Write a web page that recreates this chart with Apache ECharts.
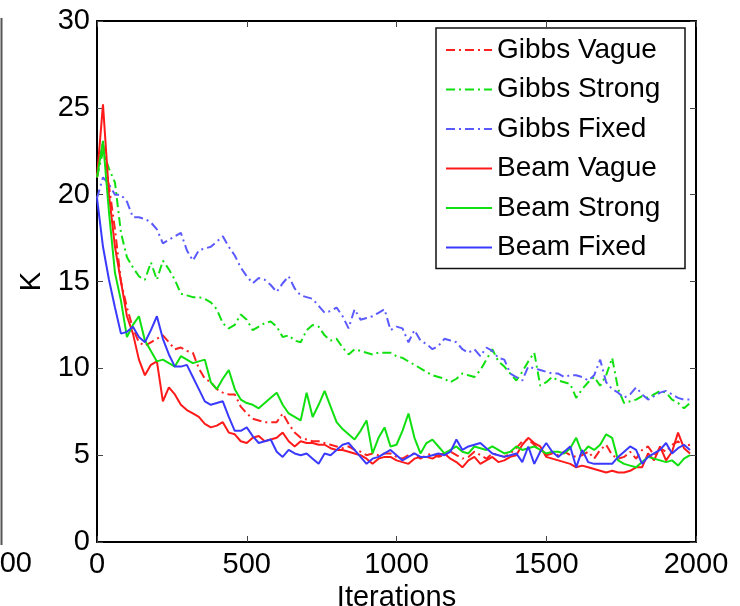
<!DOCTYPE html>
<html>
<head>
<meta charset="utf-8">
<script src="https://cdn.jsdelivr.net/npm/echarts@6/dist/echarts.min.js"></script>
<style>
html,body{margin:0;padding:0;background:#fff;}
#chart{width:740px;height:606px;}
</style>
</head>
<body>
<div id="chart"></div>
<script>
// ---- data ----
const iterations = [0,20,40,60,80,100,120,140,160,180,200,220,240,260,280,300,320,340,360,380,
  400,420,440,460,480,500,520,540,560,580,600,620,640,660,680,700,720,740,760,780,
  800,820,840,860,880,900,920,940,960,980,1000,1020,1040,1060,1080,1100,1120,1140,1160,1180,
  1200,1220,1240,1260,1280,1300,1320,1340,1360,1380,1400,1420,1440,1460,1480,1500,1520,1540,1560,1580,
  1600,1620,1640,1660,1680,1700,1720,1740,1760,1780,1800,1820,1840,1860,1880,1900,1920,1940,1960,1980];

const seriesNames = ['Gibbs Vague','Gibbs Strong','Gibbs Fixed','Beam Vague','Beam Strong','Beam Fixed'];

const gibbsVague = [21,23,20.5,18,15,13.5,12.3,11.5,11.3,11.5, 11.7,11.9,11.5,11.1,11.2,11.0,10.9,10.0,9.4,9.2,
  8.8,8.6,8.5,8.5,7.8,7.4,7.1,7.0,6.9,6.9, 6.9,7.4,6.8,6.3,6.0,5.9,5.8,5.8,5.7,5.6,
  5.5,5.4,5.5,5.3,5.2,5.0,5.1,5.0,5.1,5.1, 4.9,4.8,5.0,5.1,4.8,5.0,5.1,4.9,5.0,5.2,
  5.0,4.8,4.9,5.2,5.0,4.8,5.1,5.0,4.9,5.1, 5.4,5.8,5.9,5.6,5.2,5.0,5.1,5.0,5.2,5.0,
  4.9,5.0,5.2,4.8,5.3,5.6,5.0,4.8,4.9,5.2, 4.8,5.3,5.5,5.0,5.4,5.2,5.6,5.8,5.5,5.6];

const gibbsStrong = [21,22.5,21.5,20.7,17.8,16.4,15.8,15.3,15.1,16.1, 15.1,16.2,15.7,15.1,14.3,14.2,14.1,14.1,14.0,13.8,
  13.4,12.6,12.3,12.5,13.1,12.8,12.2,12.4,12.6,12.7, 12.4,11.8,11.9,11.6,11.5,12.2,12.5,12.4,11.9,11.6,
  11.7,11.2,10.8,11.1,11.0,10.9,10.8,10.9,10.9,10.9, 10.7,10.6,10.4,10.2,10.0,9.8,9.6,9.5,9.4,9.2,
  9.4,9.7,9.6,9.5,9.9,10.5,11.1,10.4,10.1,9.7, 9.3,9.8,10.4,10.9,9.0,9.2,9.5,9.3,9.2,9.1,
  8.3,8.8,9.2,9.5,9.0,9.6,10.6,8.8,8.0,8.1, 8.2,8.4,8.3,8.5,8.7,8.6,8.2,8.0,7.7,8.0];

const gibbsFixed = [19.8,21.0,20.6,20.0,20.0,19.6,18.7,18.7,18.6,18.4, 18.0,17.2,17.4,17.6,17.8,16.8,16.2,16.8,16.9,17.0,
  17.3,17.6,17.0,16.5,15.8,15.3,14.9,15.2,15.1,14.8, 14.4,14.9,15.3,14.6,14.2,14.1,14.0,13.6,13.2,13.3,
  13.5,13.0,12.3,13.4,12.8,12.9,13.0,13.2,13.4,12.2, 12.4,12.3,11.5,12.2,11.6,11.4,11.1,11.3,11.7,11.6,
  11.5,11.1,10.9,11.1,10.7,11.2,11.0,10.6,10.5,9.7, 9.5,9.3,10.1,10.0,9.9,9.8,9.7,9.7,9.5,9.6,
  9.6,9.5,9.3,9.6,10.5,9.2,8.8,8.6,8.3,8.5, 8.9,8.5,8.2,8.4,8.6,8.7,8.5,8.3,8.2,8.2];

const beamVague = [21,25.2,20,17,15,13,12,10.5,9.6,10.2, 10.4,8.1,8.9,8.5,7.9,7.6,7.4,7.2,6.8,6.6,
  6.7,6.9,6.3,6.2,5.8,5.7,6.0,6.1,5.8,5.9, 6.0,6.3,5.8,5.5,5.8,5.7,5.7,5.6,5.6,5.4,
  5.3,5.3,5.2,5.1,5.0,4.8,4.5,4.8,4.9,4.9, 4.7,4.6,4.5,4.8,4.9,4.9,4.8,5.0,5.1,4.8,
  4.6,4.3,4.7,4.9,4.5,4.7,4.9,4.6,4.7,4.9, 5.0,5.6,6.0,5.7,5.5,4.9,4.8,4.7,4.6,4.5,
  4.3,4.4,4.3,4.2,4.1,4.0,4.1,4.0,4.0,4.1, 4.3,4.3,5.1,4.7,5.5,4.7,5.2,6.3,5.4,5.1];

const beamStrong = [21,23.1,19,15.5,13.9,11.8,12.5,13.0,11.6,11.0, 10.4,10.5,10.3,10.1,10.7,10.5,10.3,10.4,10.5,9.2,
  8.8,9.4,9.9,8.8,8.2,8.0,7.9,7.7,8.0,8.3, 8.6,7.9,7.4,7.2,7.0,8.6,7.2,7.9,8.7,7.8,
  6.9,6.5,6.2,5.9,6.4,7.0,5.1,6.0,6.6,5.5, 5.6,6.4,7.4,6.0,5.1,5.7,5.9,5.5,5.1,5.3,
  5.5,5.2,5.1,5.5,5.4,5.3,5.5,5.3,5.1,5.2, 5.5,5.3,5.4,5.5,5.3,5.1,5.2,5.2,5.1,5.4,
  6.0,5.1,5.5,5.3,5.6,6.2,6.0,4.7,4.5,4.4, 4.3,4.6,4.9,4.8,4.7,4.6,4.7,4.4,4.8,5.0];

const beamFixed = [19.8,17,15.1,13.5,12.0,12.1,12.4,11.8,11.5,12.2, 13.0,11.7,10.8,10.1,10.1,10.2,9.5,8.8,8.1,7.9,
  8.0,8.1,7.2,6.4,6.4,6.6,6.1,5.7,5.8,5.9, 5.2,4.9,5.3,5.1,5.0,5.1,4.8,4.5,5.1,5.0,
  5.3,5.6,5.7,5.3,4.9,4.5,4.8,4.9,5.1,5.3, 5.0,4.7,4.9,5.1,4.9,4.9,5.0,5.1,5.0,5.2,
  5.9,5.3,5.5,5.6,5.7,5.4,5.1,5.0,4.9,5.0, 5.1,4.6,5.5,4.5,5.2,5.7,5.2,4.9,5.2,5.5,
  4.3,5.3,4.6,4.5,4.5,4.5,4.5,4.9,5.2,5.5, 5.3,4.5,4.9,5.1,5.3,5.7,5.1,5.4,5.6,5.3];

const xTicks = [0, 500, 1000, 1500, 2000];
const yTicks = [0, 5, 10, 15, 20, 25, 30];

// ---- chart ----
const FONT = '"Liberation Sans", Arial, sans-serif';
const dashDot = [9, 4, 2, 4];
const styles = [
  {color:'#ff2020', type:dashDot},
  {color:'#10e010', type:dashDot},
  {color:'#5a5aff', type:dashDot},
  {color:'#ff1a1a', type:'solid'},
  {color:'#10e010', type:'solid'},
  {color:'#3a3aff', type:'solid'}
];
const values = [gibbsVague, gibbsStrong, gibbsFixed, beamVague, beamStrong, beamFixed];

const series = seriesNames.map((name, i) => ({
  name: name,
  type: 'line',
  symbol: 'none',
  animation: false,
  data: values[i].map((v, k) => [iterations[k], v]),
  lineStyle: {color: styles[i].color, width: 2, type: styles[i].type},
  itemStyle: {color: styles[i].color}
}));

const axisLineStyle = {color:'#000', width:2};
const tickStyle = {show:true, inside:true, length:6, lineStyle:{color:'#444', width:1}};
const plain = v => String(v);

const chart = echarts.init(document.getElementById('chart'), null, {renderer:'canvas'});
chart.setOption({
  animation: false,
  backgroundColor: '#fff',
  grid: {left:97, right:44, top:21, bottom:64, containLabel:false, outerBoundsMode:'none'},
  xAxis: [
    {type:'value', min:xTicks[0], max:xTicks[xTicks.length-1], interval:500, position:'bottom',
     axisLine:{show:true, onZero:false, lineStyle:axisLineStyle}, axisTick:tickStyle,
     axisLabel:{fontSize:29, color:'#000', fontFamily:FONT, margin:8, formatter:plain},
     splitLine:{show:false},
     name:'Iterations', nameLocation:'middle', nameGap:37,
     nameTextStyle:{fontSize:29, color:'#000', fontFamily:FONT}},
    {type:'value', min:xTicks[0], max:xTicks[xTicks.length-1], interval:500, position:'top',
     axisLine:{show:true, onZero:false, lineStyle:axisLineStyle}, axisTick:tickStyle,
     axisLabel:{show:false}, splitLine:{show:false}}
  ],
  yAxis: [
    {type:'value', min:yTicks[0], max:yTicks[yTicks.length-1], interval:5, position:'left',
     axisLine:{show:true, onZero:false, lineStyle:axisLineStyle}, axisTick:tickStyle,
     axisLabel:{fontSize:29, color:'#000', fontFamily:FONT, margin:7, formatter:plain},
     splitLine:{show:false},
     name:'K', nameLocation:'middle', nameGap:50, nameRotate:90,
     nameTextStyle:{fontSize:29, color:'#000', fontFamily:FONT}},
    {type:'value', min:yTicks[0], max:yTicks[yTicks.length-1], interval:5, position:'right',
     axisLine:{show:true, onZero:false, lineStyle:axisLineStyle}, axisTick:tickStyle,
     axisLabel:{show:false}, splitLine:{show:false}}
  ],
  legend: {
    orient:'vertical', left:436, top:28,
    data: seriesNames,
    backgroundColor:'#fff', borderColor:'#111', borderWidth:1.5,
    padding:[7,8,6,9],
    itemWidth:46, itemHeight:14, itemGap:9.5,
    itemStyle:{opacity:0},
    textStyle:{fontSize:28, color:'#000', fontFamily:FONT, lineHeight:30, width:180}
  },
  graphic: [
    {type:'line', shape:{x1:1.5, y1:18, x2:1.5, y2:545}, style:{stroke:'#555', lineWidth:2}, silent:true},
    {type:'text', style:{text:'2000', x:32, y:564, align:'right', verticalAlign:'middle',
      font:'29px ' + FONT, fill:'#000'}, silent:true}
  ],
  series: series
});
</script>
</body>
</html>
